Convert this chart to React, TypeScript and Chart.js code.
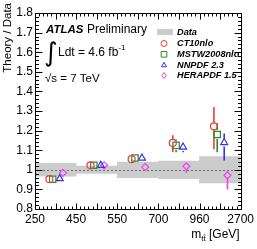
import React, { useEffect, useRef } from 'react';
import { Chart, registerables } from 'chart.js';

Chart.register(...registerables);

// ---------- data ----------
const binEdgeLabels = ['250', '450', '550', '700', '960', '2700'];
const yTickLabels = ['0.8', '0.9', '1', '1.1', '1.2', '1.3', '1.4', '1.5', '1.6', '1.7', '1.8'];
const dataRelUnc = [0.033, 0.019, 0.04, 0.045, 0.067];

const ct10Values = [0.952, 1.023, 1.054, 1.137, 1.222];
const ct10ErrUp = [0.006, 0.006, 0.01, 0.039, 0.098];
const ct10ErrDown = [0.006, 0.006, 0.01, 0.046, 0.117];

const mstwValues = [0.952, 1.023, 1.06, 1.125, 1.18];
const mstwErrUp = [0.006, 0.006, 0.01, 0.03, 0.057];
const mstwErrDown = [0.006, 0.006, 0.01, 0.035, 0.09];

const nnpdfValues = [0.955, 1.023, 1.06, 1.116, 1.139];
const nnpdfErrUp = [0.006, 0.006, 0.01, 0.018, 0.046];
const nnpdfErrDown = [0.006, 0.006, 0.01, 0.027, 0.091];

const heraValues = [0.984, 1.023, 1.014, 1.018, 0.972];
const heraErrUp = [0.008, 0.008, 0.017, 0.013, 0.025];
const heraErrDown = [0.008, 0.008, 0.017, 0.034, 0.073];

const dataLabel = 'Data';
const seriesNames = ['CT10nlo', 'MSTW2008nlo', 'NNPDF 2.3', 'HERAPDF 1.5'];

const yTitle = 'Theory / Data';
const atlasText = 'ATLAS';
const prelimText = 'Preliminary';
const lumiText = 'Ldt = 4.6 fb';
const lumiSup = '-1';
const energyText = '\u221As = 7 TeV';

// ---------- styles ----------
const FONT = '"Liberation Sans", Arial, Helvetica, sans-serif';
const seriesStyles = [
  { color: 'rgb(240,60,60)', style: 'circle', radius: 3.5, offset: -0.15 },
  { color: 'rgb(40,140,40)', style: 'rect', radius: 4.5, offset: -0.07 },
  { color: 'rgb(50,50,240)', style: 'triangle', radius: 4, offset: 0.1 },
  { color: 'rgb(235,70,235)', style: 'rectRot', radius: 3.5, offset: 0.18 },
];
const seriesValues = [ct10Values, mstwValues, nnpdfValues, heraValues];
const seriesUp = [ct10ErrUp, mstwErrUp, nnpdfErrUp, heraErrUp];
const seriesDown = [ct10ErrDown, mstwErrDown, nnpdfErrDown, heraErrDown];

function drawMarker(ctx: CanvasRenderingContext2D, style: string, x: number, y: number, r: number) {
  ctx.beginPath();
  if (style === 'circle') {
    ctx.arc(x, y, r, 0, Math.PI * 2);
  } else if (style === 'rect') {
    const s = r * Math.SQRT1_2;
    ctx.rect(x - s, y - s, 2 * s, 2 * s);
  } else if (style === 'triangle') {
    const h = r * 1.5;
    ctx.moveTo(x, y - h * 0.6);
    ctx.lineTo(x + r * 0.85, y + h * 0.4);
    ctx.lineTo(x - r * 0.85, y + h * 0.4);
    ctx.closePath();
  } else {
    ctx.moveTo(x, y - r);
    ctx.lineTo(x + r * 0.7, y);
    ctx.lineTo(x, y + r);
    ctx.lineTo(x - r * 0.7, y);
    ctx.closePath();
  }
  ctx.stroke();
}

const errorBarPlugin = {
  id: 'errorBars',
  afterDatasetDraw(chart: any, args: any) {
    if (args.index !== 0) return; // after the data band
    const { ctx, chartArea: a, scales } = chart;
    const xs = scales.x;
    const ys = scales.y;
    ctx.save();
    // dotted line at 1
    ctx.strokeStyle = 'rgb(110,110,110)';
    ctx.lineWidth = 1;
    ctx.setLineDash([2, 2]);
    const y1 = Math.round(ys.getPixelForValue(1)) + 0.5;
    ctx.beginPath();
    ctx.moveTo(a.left, y1);
    ctx.lineTo(a.right, y1);
    ctx.stroke();
    ctx.setLineDash([]);
    // error bars
    for (let s = 0; s < seriesValues.length; s++) {
      const st = seriesStyles[s];
      ctx.strokeStyle = st.color;
      ctx.lineWidth = 1.6;
      for (let i = 0; i < seriesValues[s].length; i++) {
        const v = seriesValues[s][i];
        const px = xs.getPixelForValue(i + 0.5 + st.offset);
        const py = ys.getPixelForValue(v);
        const top = ys.getPixelForValue(v + seriesUp[s][i]);
        const bot = ys.getPixelForValue(v - seriesDown[s][i]);
        const gap = st.radius;
        ctx.beginPath();
        if (py - top > gap) {
          ctx.moveTo(px, top);
          ctx.lineTo(px, py - gap);
        }
        if (bot - py > gap) {
          ctx.moveTo(px, py + gap);
          ctx.lineTo(px, bot);
        }
        ctx.stroke();
      }
    }
    ctx.restore();
  },
};

const framePlugin = {
  id: 'frameTicks',
  afterDatasetsDraw(chart: any) {
    const { ctx, chartArea: a, scales } = chart;
    const xs = scales.x;
    const ys = scales.y;
    ctx.save();
    ctx.strokeStyle = '#000';
    ctx.lineWidth = 1;
    const L = Math.round(a.left) + 0.5;
    const R = Math.round(a.right) + 0.5;
    const T = Math.round(a.top) + 0.5;
    const B = Math.round(a.bottom) + 0.5;
    ctx.beginPath();
    ctx.rect(L, T, R - L, B - T);
    for (let i = 0; i <= 50; i++) {
      const px = Math.round(xs.getPixelForValue(i * 0.1)) + 0.5;
      const len = i % 5 === 0 ? 6 : 3;
      ctx.moveTo(px, B);
      ctx.lineTo(px, B - len);
      ctx.moveTo(px, T);
      ctx.lineTo(px, T + len);
    }
    for (let i = 0; i <= 50; i++) {
      const py = Math.round(ys.getPixelForValue(0.8 + i * 0.02)) + 0.5;
      const len = i % 5 === 0 ? 7 : 3.5;
      ctx.moveTo(L, py);
      ctx.lineTo(L + len, py);
      ctx.moveTo(R, py);
      ctx.lineTo(R - len, py);
    }
    ctx.stroke();
    ctx.restore();
  },
};

const textPlugin = {
  id: 'texts',
  afterDraw(chart: any) {
    const { ctx, chartArea: a } = chart;
    ctx.save();
    ctx.fillStyle = '#000';
    // y title
    ctx.save();
    ctx.translate(8, 3);
    ctx.rotate(-Math.PI / 2);
    ctx.font = `11.5px ${FONT}`;
    ctx.textAlign = 'right';
    ctx.textBaseline = 'middle';
    ctx.fillText(yTitle, 0, 0);
    ctx.restore();

    // x title: m_{tt̄} [GeV]
    ctx.textBaseline = 'alphabetic';
    ctx.textAlign = 'left';
    ctx.font = `12px ${FONT}`;
    const geV = ' [GeV]';
    const wGeV = ctx.measureText(geV).width;
    ctx.font = `8px ${FONT}`;
    const wSub = ctx.measureText('tt').width;
    const wT = ctx.measureText('t').width;
    ctx.font = `12px ${FONT}`;
    const wM = ctx.measureText('m').width;
    const xEnd = a.right - 1;
    const base = 238;
    let xs0 = xEnd - wGeV - wSub - wM;
    ctx.fillText('m', xs0, base);
    ctx.font = `8px ${FONT}`;
    ctx.fillText('tt', xs0 + wM, base + 3);
    ctx.fillRect(xs0 + wM + wT + 0.3, base - 3.5, wT - 0.6, 0.8);
    ctx.font = `12px ${FONT}`;
    ctx.fillText(geV, xs0 + wM + wSub, base);

    // ATLAS Preliminary
    const x0 = a.left + 11;
    ctx.font = `italic bold 11.5px ${FONT}`;
    ctx.fillText(atlasText, x0, 33);
    const wA = ctx.measureText(atlasText).width;
    ctx.font = `12px ${FONT}`;
    ctx.fillText(prelimText, x0 + wA + 3.5, 33);

    // integral
    ctx.font = `26px "DejaVu Sans", ${FONT}`;
    ctx.fillText('\u222B', x0 - 2, 61);
    ctx.font = `12px ${FONT}`;
    ctx.fillText(lumiText, x0 + 12, 55.5);
    const wL = ctx.measureText(lumiText).width;
    ctx.font = `8px ${FONT}`;
    ctx.fillText(lumiSup, x0 + 12 + wL, 50);

    // sqrt s
    ctx.font = `11.5px ${FONT}`;
    ctx.fillText(energyText, x0 - 1, 82);

    // legend
    const lx = 164;
    const tx = 177;
    const rows = [32, 43.5, 54.3, 65, 75.5];
    ctx.fillStyle = 'rgb(204,204,204)';
    ctx.fillRect(157, rows[0] - 3, 16, 6);
    ctx.fillStyle = '#000';
    ctx.font = `italic bold 9.2px ${FONT}`;
    ctx.textBaseline = 'middle';
    ctx.fillText(dataLabel, tx, rows[0]);
    for (let s = 0; s < seriesNames.length; s++) {
      const st = seriesStyles[s];
      ctx.strokeStyle = st.color;
      ctx.lineWidth = 1;
      drawMarker(ctx, st.style, lx, rows[s + 1], st.style === 'rect' ? 4 : 3);
      ctx.fillStyle = '#000';
      ctx.fillText(seriesNames[s], tx, rows[s + 1]);
    }
    ctx.restore();
  },
};

export default function App() {
  const ref = useRef<HTMLCanvasElement | null>(null);
  useEffect(() => {
    if (!ref.current) return;
    const datasets: any[] = [
      {
        type: 'bar',
        label: dataLabel,
        data: dataRelUnc.map((u, i) => ({ x: i + 0.5, y: [1 - u, 1 + u] })),
        backgroundColor: 'rgb(204,204,204)',
        borderWidth: 0,
        barPercentage: 1,
        categoryPercentage: 1,
        order: 10,
      },
    ];
    seriesValues.forEach((vals, s) => {
      const st = seriesStyles[s];
      datasets.push({
        type: 'scatter',
        label: seriesNames[s],
        data: vals.map((v, i) => ({ x: i + 0.5 + st.offset, y: v })),
        pointStyle: st.style,
        pointRadius: st.radius,
        borderColor: st.color,
        backgroundColor: 'rgba(0,0,0,0)',
        pointBorderWidth: 1.2,
        showLine: false,
        order: 1,
      });
    });
    const chart = new Chart(ref.current, {
      type: 'scatter',
      data: { datasets },
      options: {
        responsive: false,
        animation: false,
        devicePixelRatio: 1,
        layout: { padding: { top: 13, right: 14, left: 0, bottom: 0 } },
        plugins: { legend: { display: false }, tooltip: { enabled: false } },
        scales: {
          x: {
            type: 'linear',
            min: 0,
            max: 5,
            offset: false,
            grid: { display: false, drawTicks: false, tickLength: 0 },
            border: { display: false },
            ticks: {
              stepSize: 1,
              autoSkip: false,
              maxRotation: 0,
              padding: 3,
              color: '#000',
              font: { family: FONT, size: 12 },
              callback: (v: any) => binEdgeLabels[Math.round(v)] ?? '',
            },
            afterFit: (s: any) => {
              s.height = 40;
            },
          },
          y: {
            min: 0.8,
            max: 1.8,
            grid: { display: false, drawTicks: false, tickLength: 0 },
            border: { display: false },
            ticks: {
              stepSize: 0.1,
              padding: 2,
              color: '#000',
              font: { family: FONT, size: 12 },
              callback: (v: any) => yTickLabels[Math.round((v - 0.8) * 10)] ?? '',
            },
            afterFit: (s: any) => {
              s.width = 35;
            },
          },
        },
      },
      plugins: [errorBarPlugin, framePlugin, textPlugin],
    });
    return () => chart.destroy();
  }, []);
  return (
    <div style={{ position: 'fixed', left: 0, top: 0, width: 257, height: 249, background: '#fff' }}>
      <canvas ref={ref} width={257} height={249} style={{ display: 'block' }} />
    </div>
  );
}
